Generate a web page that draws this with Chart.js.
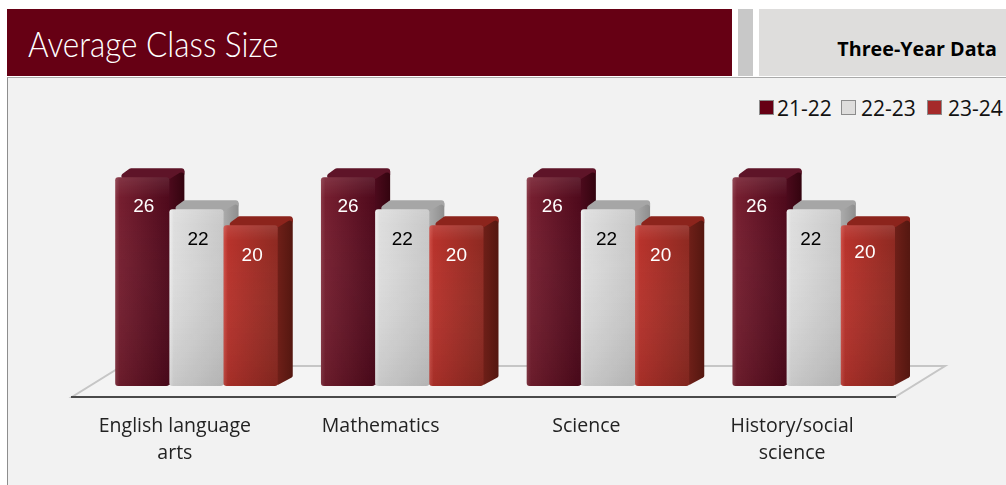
<!DOCTYPE html>
<html><head><meta charset="utf-8">
<script src="https://cdn.jsdelivr.net/npm/chart.js@4"></script>
<style>
html,body{margin:0;padding:0;background:#fff;width:1006px;height:485px;overflow:hidden}
.abs{position:absolute}
#panel{left:7px;top:77px;width:999px;height:408px;background:#f2f2f2;border-left:1px solid #8e8e8e;border-top:1px solid #aaa;box-sizing:border-box}
#ban{left:7px;top:9px;width:725px;height:67px;background:#660014;color:#fff;white-space:nowrap}
#ban span{position:absolute;left:21px;top:-1px;font:300 36px/70px Lato,sans-serif;transform:scaleX(.874);transform-origin:0 0}
#blk{left:738px;top:9px;width:15px;height:67px;background:#c8c8c8}
#sub{left:759px;top:9px;width:247px;height:67px;background:#dedddc;color:#000;font:700 19.7px/80px "Open Sans",sans-serif;text-align:right;padding-right:9px;box-sizing:border-box}
#legend{left:760px;top:96px;height:24px;white-space:nowrap;font:21px/24px "Open Sans",sans-serif;color:#111}
#legend span{position:absolute;top:0}
#legend i{position:absolute;top:4px;width:15px;height:15px;box-sizing:border-box;border:1px solid #8c8c8c}
canvas{position:absolute;left:0;top:0}
</style></head><body>
<div class="abs" id="panel"></div>
<div class="abs" id="ban"><span>Average Class Size</span></div>
<div class="abs" id="blk"></div>
<div class="abs" id="sub">Three-Year Data</div>
<div class="abs" id="legend"></div>
<canvas id="c" width="1006" height="485"></canvas>
<script>
const categories = [["English language","arts"],["Mathematics"],["Science"],["History/social","science"]];
const seriesNames = ["21-22","22-23","23-24"];
const values2122 = [26,26,26,26];
const values2223 = [22,22,22,22];
const values2324 = [20,20,20,20];
const swatches = ["#660014","#dedddc","#a52a2a"];

const looks = [
 {front:["#8a3a48","#761f30","#4f0a1c"],side:["#4c0a1c","#33040f"],top:"#5e1428",ink:"#fff"},
 {front:["#f0f0f0","#dedede","#c8c8c8"],side:["#ababab","#8e8e8e"],top:"#a6a6a6",ink:"#000"},
 {front:["#cf5048","#b8332c","#8e2a22"],side:["#6e1f18","#541710"],top:"#8c241c",ink:"#fff"}
];
const DX=15, DY=-9, SHIFT_X=21.6, SHIFT_Y=-11, FLOOR_X=50, FLOOR_Y=-31;
const LABEL_DRIFT=[1.5,0,-1.5,-3];

function rpoly(ctx,pts,r){
  ctx.beginPath();
  const n=pts.length;
  ctx.moveTo((pts[n-1][0]+pts[0][0])/2,(pts[n-1][1]+pts[0][1])/2);
  for(let i=0;i<n;i++){const a=pts[i],b=pts[(i+1)%n];ctx.arcTo(a[0],a[1],(a[0]+b[0])/2,(a[1]+b[1])/2,r);}
  ctx.closePath();
}
const bars3d={
 id:'bars3d',
 beforeDatasetsDraw(chart){
  const ctx=chart.ctx,a=chart.chartArea;
  ctx.save();
  ctx.beginPath();ctx.moveTo(a.left,a.bottom);ctx.lineTo(a.right,a.bottom);
  ctx.lineTo(a.right+FLOOR_X,a.bottom+FLOOR_Y);ctx.lineTo(a.left+FLOOR_X,a.bottom+FLOOR_Y);ctx.closePath();
  ctx.fillStyle="#f4f4f4";ctx.fill();
  ctx.strokeStyle="#c6c6c6";ctx.lineWidth=2;ctx.stroke();
  ctx.restore();
  chart.data.datasets.forEach((ds,di)=>{
   const lk=looks[di];
   chart.getDatasetMeta(di).data.forEach((el,idx)=>{
    const x0=el.x-el.width/2+SHIFT_X,x1=el.x+el.width/2+SHIFT_X,yt=el.y+SHIFT_Y,yb=el.base+SHIFT_Y;
    ctx.save();
    ctx.filter='blur(0.5px)';
    let g=ctx.createLinearGradient(x1,0,x1+DX,0);g.addColorStop(0,lk.side[0]);g.addColorStop(1,lk.side[1]);
    ctx.fillStyle=g;rpoly(ctx,[[x1-2,yt],[x1+DX,yt+DY],[x1+DX,yb+DY],[x1-2,yb]],2);ctx.fill();
    ctx.fillStyle=lk.top;rpoly(ctx,[[x0,yt+2],[x0+DX,yt+DY],[x1+DX,yt+DY],[x1+DX,yt+DY+2],[x1,yt+2]],3);ctx.fill();
    g=ctx.createLinearGradient(x0,0,x1,0);
    g.addColorStop(0,lk.front[0]);g.addColorStop(.08,lk.front[1]);g.addColorStop(1,lk.front[2]);
    ctx.fillStyle=g;rpoly(ctx,[[x0,yt],[x1,yt],[x1,yb],[x0,yb]],3);ctx.fill();
    g=ctx.createLinearGradient(0,yt,0,yb);g.addColorStop(0,"rgba(255,255,255,.1)");g.addColorStop(.1,"rgba(255,255,255,0)");g.addColorStop(1,"rgba(0,0,0,.1)");
    ctx.fillStyle=g;ctx.fill();
    ctx.filter='none';
    ctx.fillStyle=lk.ink;ctx.font='19px "Liberation Sans",Arial,sans-serif';ctx.textAlign='center';ctx.textBaseline='middle';
    ctx.fillText(ds.data[idx],(x0+x1)/2+LABEL_DRIFT[idx],yt+30-(di===2&&idx===3?3:0));
    ctx.restore();
   });
  });
  return false;
 }
};
const valueSets=[values2122,values2223,values2324];
new Chart(document.getElementById('c'),{
 type:'bar',
 data:{labels:categories,datasets:seriesNames.map((n,i)=>({label:n,data:valueSets[i],backgroundColor:swatches[i],categoryPercentage:.79,barPercentage:1}))},
 options:{responsive:false,animation:false,devicePixelRatio:1,
  layout:{padding:{left:72,right:111,top:156,bottom:0}},
  plugins:{legend:{display:false},tooltip:{enabled:false}},
  scales:{
   x:{grid:{display:false,drawTicks:false},border:{color:"#4a4a4a",width:2,z:1},
      ticks:{color:"#222",font:{family:'"Open Sans",sans-serif',size:19.5,lineHeight:26.5/19.5},padding:16.5,maxRotation:0,autoSkip:false},
      afterFit(s){s.height=88;}},
   y:{display:false,min:0,max:30}
  }
 },
 plugins:[bars3d]
});
const lg=document.getElementById('legend');
const offs=[[-1,17],[81,101],[167,188]];
seriesNames.forEach((n,i)=>{
 const b=document.createElement('i');b.style.left=offs[i][0]+'px';b.style.background=swatches[i];lg.appendChild(b);
 const t=document.createElement('span');t.style.left=offs[i][1]+'px';t.textContent=n;lg.appendChild(t);
});
</script></body></html>
